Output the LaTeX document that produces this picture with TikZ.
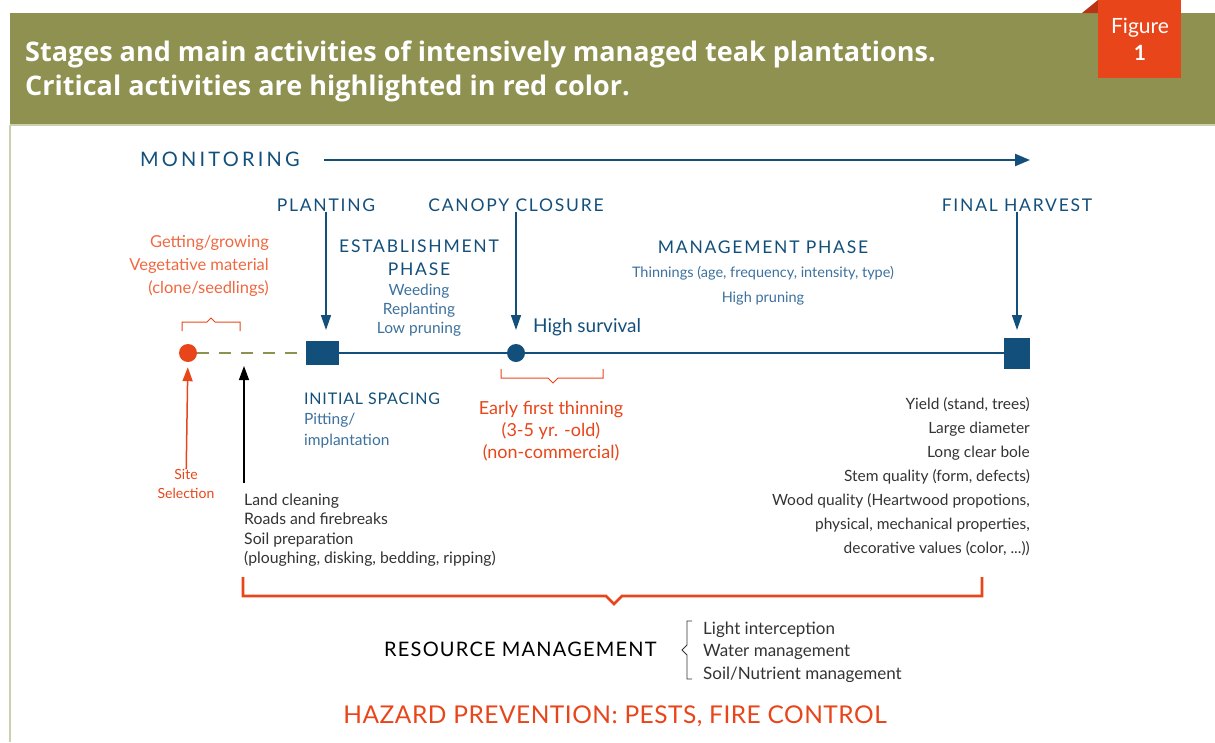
\documentclass[tikz,border=0pt]{standalone}
\usepackage{fontspec}
\setmainfont{Lato}
\newfontfamily\titlefont{Open Sans}
\newfontfamily\capsfont[LetterSpace=10]{Lato}
\usepackage{xcolor}
\usetikzlibrary{arrows.meta, positioning}

\definecolor{bandgreen}{RGB}{142,145,80}
\definecolor{bandline}{RGB}{205,207,175}
\definecolor{figred}{RGB}{232,70,26}
\definecolor{figdark}{RGB}{184,52,20}
\definecolor{darkblue}{RGB}{19,79,123}
\definecolor{midblue}{RGB}{60,113,158}
\definecolor{salmon}{RGB}{240,104,64}
\definecolor{olive}{RGB}{142,145,80}
\definecolor{textgray}{RGB}{51,51,51}

\begin{document}
\begin{tikzpicture}[x=1pt, y=-1pt,
    every node/.style={inner sep=0pt},
    stagehead/.style={text=darkblue, font=\capsfont\fontsize{17.5}{23}\selectfont, align=center},
    subnote/.style={text=midblue, font=\fontsize{15.5}{19}\selectfont, align=center},
    grynote/.style={text=textgray, font=\fontsize{15.5}{24}\selectfont},
    rednote/.style={text=figred, font=\fontsize{18}{22}\selectfont, align=center},
    redbrace/.style={draw=figred, line width=1.3pt},
    tldown/.style={-{Triangle[length=15pt, width=10pt]}, draw=darkblue, line width=1.5pt},
    tlup/.style={-{Triangle[length=14pt, width=10pt]}, line width=1.5pt},
]
    \useasboundingbox (0,0) rectangle (1215,742);

    % Header band
    \fill[bandgreen] (10,13) rectangle (1215,125);
    \draw[bandline, line width=1.2pt] (10,125) -- (1215,125);
    \draw[bandline, line width=1.2pt] (10,125) -- (10,742);
    \node[anchor=north west, align=left, text=white,
          font=\titlefont\bfseries\fontsize{27}{34}\selectfont] (title) at (25,41)
        {Stages and main activities of intensively managed teak plantations.\\
         Critical activities are highlighted in red color.};

    % Figure tab
    \fill[figdark] (1082,13) -- (1098,0) -- (1098,13) -- cycle;
    \fill[figred] (1098,0) rectangle (1181,78);
    \node[text=white, align=center, font=\fontsize{21}{27}\selectfont] (figlabel) at (1140,39)
        {Figure\\\textbf{1}};

    % Monitoring
    \node[anchor=west, text=darkblue, font=\capsfont\addfontfeature{LetterSpace=16}\fontsize{20}{24}\selectfont]
        (monitor) at (140,159) {MONITORING};
    \coordinate (monend) at (1030,160);
    \draw[-{Triangle[length=15pt, width=12pt]}, darkblue, line width=2.2pt, shorten <=24pt]
        (monitor.east |- monend) -- (monend);

    % Stage labels
    \node[stagehead] (planting) at (326,205) {PLANTING};
    \node[stagehead] (canopy) at (516,205) {CANOPY CLOSURE};
    \node[stagehead] (harvest) at (1017,205) {FINAL HARVEST};

    % Timeline
    \node[fill=darkblue, minimum width=33pt, minimum height=24pt] (plantbox) at (322.5,353) {};
    \node[fill=darkblue, circle, minimum size=18pt] (canopydot) at (516,353) {};
    \node[fill=darkblue, minimum width=26pt, minimum height=31pt] (harvestbox) at (1017,353) {};
    \node[fill=figred, circle, minimum size=18pt] (sitedot) at (188,353) {};
    \draw[darkblue, line width=2.4pt] (plantbox) -- (canopydot) -- (harvestbox);
    \draw[olive, line width=2.4pt, dash pattern=on 12pt off 10pt] (sitedot) -- (plantbox);

    % Stage arrows
    \coordinate (plantin) at (326,330);
    \coordinate (canopyin) at (516,330);
    \coordinate (harvestin) at (1017,330);
    \draw[tldown] (planting) -- (plantin);
    \draw[tldown] (canopy) -- (canopyin);
    \draw[tldown] (harvest) -- (harvestin);

    % Before planting
    \node[anchor=east, align=right, text=salmon, font=\fontsize{16.5}{23}\selectfont] (vegmat) at (269,266)
        {Getting/growing\\Vegetative material\\(clone/seedlings)};
    \draw[redbrace, line width=1pt] (182,331) -- (182,322) -- (207,322) -- (211,318) -- (215,322) -- (240,322) -- (240,331);
    \node[text=figred, align=center, font=\fontsize{14}{19}\selectfont] (sitesel) at (186,484) {Site\\Selection};
    \draw[tlup, draw=figred, fill=figred, shorten >=5pt] (sitesel) -- (sitedot);
    \node[grynote, anchor=west, align=left, font=\fontsize{15.8}{19.3}\selectfont] (land) at (244,530)
        {Land cleaning\\Roads and firebreaks\\Soil preparation\\(ploughing, disking, bedding, ripping)};
    \coordinate (landfoot) at (244,483);
    \coordinate (landtip) at (244,366);
    \draw[tlup, black, line width=1.2pt] (landfoot) -- (landtip);

    % Establishment phase
    \node[stagehead] (esthead) at (419,258) {ESTABLISHMENT\\PHASE};
    \node[subnote, below=8pt of esthead] (estnote) {Weeding\\Replanting\\Low pruning};
    \node[stagehead, anchor=west, font=\capsfont\addfontfeature{LetterSpace=5}\fontsize{16}{21}\selectfont]
        (spacing) at (304,399) {INITIAL SPACING};
    \node[subnote, align=left, font=\fontsize{15.5}{21}\selectfont, below=8pt of spacing.south west, anchor=north west]
        (spacenote) {Pitting/\\implantation};

    % Canopy closure
    \node[anchor=west, text=darkblue, font=\fontsize{19}{23}\selectfont] (survival) at (533,327) {High survival};
    \draw[redbrace, line width=1pt] (501,369) -- (501,378) -- (548,378) -- (553,383) -- (558,378) -- (603,378) -- (603,369);
    \node[rednote] (thinning) at (551,431) {Early first thinning\\(3-5 yr. -old)\\(non-commercial)};

    % Management phase
    \node[stagehead] (mgmthead) at (763,247) {MANAGEMENT PHASE};
    \node[subnote, font=\fontsize{14.5}{25}\selectfont, below=12pt of mgmthead] (mgmtnote)
        {Thinnings (age, frequency, intensity, type)\\High pruning};

    % Final harvest
    \node[grynote, anchor=east, align=right] (yield) at (1030,477)
        {Yield (stand, trees)\\Large diameter\\Long clear bole\\Stem quality (form, defects)\\
         Wood quality (Heartwood propotions,\\physical, mechanical properties,\\decorative values (color, ...))};

    % Resource management
    \draw[figred, line width=2.6pt] (243,577) -- (243,596) -- (606,596) -- (614,604) -- (622,596) -- (982,596) -- (982,577);
    \node[anchor=west, text=black, font=\capsfont\addfontfeature{LetterSpace=6}\fontsize{20}{23}\selectfont]
        (resource) at (384,649) {RESOURCE MANAGEMENT};
    \draw[textgray, line width=0.9pt] (692,621) -- (687,621) -- (687,645) -- (682,650) -- (687,655) -- (687,679) -- (692,679);
    \node[grynote, anchor=west, align=left, font=\fontsize{17}{22.5}\selectfont] (reslist) at (703,652)
        {Light interception\\Water management\\Soil/Nutrient management};

    % Hazard prevention
    \node[text=figred, font=\capsfont\addfontfeature{LetterSpace=2}\fontsize{24.5}{29}\selectfont]
        (hazard) at (615,716) {HAZARD PREVENTION: PESTS, FIRE CONTROL};
\end{tikzpicture}
\end{document}
